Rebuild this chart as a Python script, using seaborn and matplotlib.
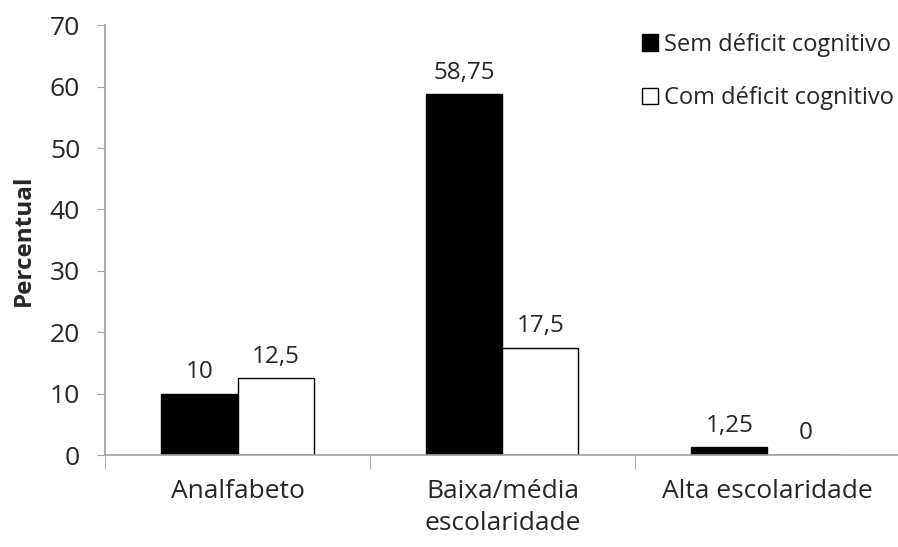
import matplotlib

matplotlib.use("Agg")
import matplotlib.pyplot as plt
import pandas as pd
import seaborn as sns

categorias = ["Analfabeto", "Baixa/média\nescolaridade", "Alta escolaridade"]
grupos = ["Sem déficit cognitivo", "Com déficit cognitivo"]
sem_deficit = [10, 58.75, 1.25]
com_deficit = [12.5, 17.5, 0]
y_ticks = [0, 10, 20, 30, 40, 50, 60, 70]

df = pd.DataFrame(
    {
        "categoria": categorias * 2,
        "valor": sem_deficit + com_deficit,
        "grupo": [grupos[0]] * 3 + [grupos[1]] * 3,
    }
)

sns.set_style("white")
plt.rcParams["font.family"] = ["Open Sans", "DejaVu Sans"]

fig = plt.figure(figsize=(8.98, 5.47), dpi=100)
ax = fig.add_axes([0.117, 0.168, 0.885, 0.786])

sns.barplot(
    data=df,
    x="categoria",
    y="valor",
    hue="grupo",
    palette=["black", "white"],
    edgecolor="black",
    linewidth=1.0,
    width=0.574,
    gap=0,
    errorbar=None,
    ax=ax,
)

# value labels, with comma decimal separator
for cont, vals in zip(ax.containers, [sem_deficit, com_deficit]):
    ax.bar_label(
        cont,
        labels=[f"{v:g}".replace(".", ",") for v in vals],
        padding=7,
        fontsize=17.5,
    )

ax.set_ylim(0, 70)
ax.set_yticks(y_ticks)
ax.set_xlim(-0.5, 2.5)
ax.set_xlabel("")
ax.set_ylabel("Percentual", fontsize=17.5, fontweight="bold", labelpad=10)

ax.tick_params(axis="y", labelsize=19, length=6, color="#a0a0a0", left=True, pad=12)
ax.tick_params(axis="x", labelsize=19, length=0, pad=17)
for lbl in ax.get_xticklabels():
    lbl.set_linespacing(1.4)

# category separators on the x axis
ax.set_xticks([-0.5, 0.5, 1.5, 2.5], minor=True)
ax.tick_params(axis="x", which="minor", length=10, color="#a0a0a0", bottom=True)

for s in ["top", "right"]:
    ax.spines[s].set_visible(False)
for s in ["left", "bottom"]:
    ax.spines[s].set_color("#a0a0a0")
    ax.spines[s].set_linewidth(1.2)

ax.legend(
    loc="upper right",
    bbox_to_anchor=(0.995, 0.94),
    bbox_transform=fig.transFigure,
    borderaxespad=0,
    borderpad=0,
    frameon=False,
    fontsize=17,
    handlelength=0.68,
    handleheight=0.68,
    handletextpad=0.25,
    labelspacing=1.25,
)

fig.savefig("out.png", dpi=100)
